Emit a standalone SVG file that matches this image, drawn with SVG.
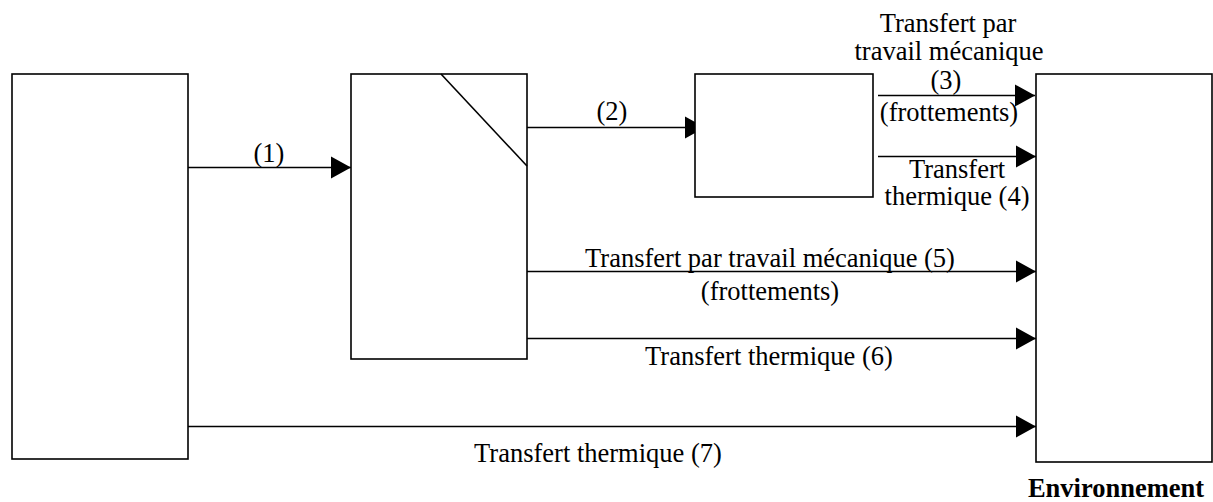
<svg xmlns="http://www.w3.org/2000/svg" width="1213" height="502" viewBox="0 0 1213 502">
<style>
.box{fill:#fff;stroke:#000;stroke-width:1.6}
.ln{fill:none;stroke:#000;stroke-width:1.6}
.conn{fill:none;stroke:#000;stroke-width:1.6;marker-end:url(#ah)}
text{font-family:"Liberation Serif","Times New Roman",serif;font-size:26.5px;fill:#000;text-anchor:middle}
.b{font-weight:bold}
</style>
<defs>
<marker id="ah" markerUnits="userSpaceOnUse" markerWidth="21" markerHeight="22" refX="20" refY="11" orient="auto" overflow="visible">
<path d="M0,0 L20,11 L0,22 Z" fill="#000"/>
</marker>
</defs>
<rect width="1213" height="502" fill="#fff"/>
<g id="connectors">
<line class="conn" x1="188" y1="167.5" x2="351" y2="167.5"/>
<line class="conn" x1="527" y1="127.5" x2="705" y2="127.5"/>
<line class="conn" x1="878" y1="95.5" x2="1035" y2="95.5"/>
<line class="conn" x1="878" y1="156.5" x2="1036" y2="156.5"/>
<line class="conn" x1="527" y1="271.5" x2="1036" y2="271.5"/>
<line class="conn" x1="527" y1="338.5" x2="1036" y2="338.5"/>
<line class="conn" x1="185" y1="426.5" x2="1036" y2="426.5"/>
</g>
<g id="node-source">
<rect class="box" x="12" y="74" width="176" height="385"/>
</g>
<g id="node-converter">
<rect class="box" x="351" y="74" width="176" height="285"/>
<line class="ln" x1="441" y1="74" x2="527" y2="166"/>
</g>
<g id="node-receiver">
<rect class="box" x="695" y="74" width="178" height="123"/>
</g>
<g id="node-environnement">
<rect class="box" x="1036" y="74" width="176" height="388"/>
<text class="b" x="1116" y="497">Environnement</text>
</g>
<g id="labels">
<text x="269" y="162">(1)</text>
<text x="612" y="120">(2)</text>
<text x="948" y="32"><tspan x="948" y="32">Transfert par</tspan><tspan x="949" y="60">travail mécanique</tspan><tspan x="946" y="89">(3)</tspan></text>
<text x="949" y="121">(frottements)</text>
<text x="957" y="178"><tspan x="957" y="178">Transfert</tspan><tspan x="957" y="205">thermique (4)</tspan></text>
<text x="770" y="267">Transfert par travail mécanique (5)</text>
<text x="770" y="300">(frottements)</text>
<text x="769" y="365">Transfert thermique (6)</text>
<text x="598" y="462">Transfert thermique (7)</text>
</g>
</svg>
